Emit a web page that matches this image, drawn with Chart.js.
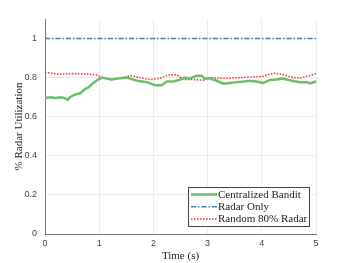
<!DOCTYPE html>
<html>
<head>
<meta charset="utf-8">
<script src="https://cdn.jsdelivr.net/npm/chart.js@4"></script>
<style>
  html, body { margin: 0; padding: 0; background: #fff; }
  #wrap { width: 350px; height: 263px; }
</style>
</head>
<body>
<div id="wrap"><canvas id="utilChart" width="350" height="263"></canvas></div>
<script>
// values
var banditTime = [0, 0.1, 0.2, 0.3, 0.37, 0.42, 0.46, 0.55, 0.65, 0.74, 0.8, 0.89, 0.98, 1.05, 1.14, 1.23, 1.38, 1.51, 1.63, 1.75, 1.88, 2.03, 2.15, 2.25, 2.37, 2.49, 2.58, 2.67, 2.8, 2.89, 2.95, 3.04, 3.17, 3.29, 3.41, 3.54, 3.66, 3.78, 3.9, 4.03, 4.15, 4.27, 4.37, 4.46, 4.58, 4.7, 4.83, 4.89, 5];
var banditUtil = [0.696, 0.70, 0.696, 0.70, 0.694, 0.687, 0.70, 0.713, 0.72, 0.742, 0.75, 0.773, 0.79, 0.80, 0.795, 0.79, 0.797, 0.80, 0.79, 0.781, 0.777, 0.761, 0.761, 0.78, 0.78, 0.79, 0.80, 0.795, 0.81, 0.81, 0.795, 0.795, 0.784, 0.769, 0.773, 0.777, 0.78, 0.784, 0.78, 0.773, 0.788, 0.79, 0.795, 0.79, 0.783, 0.776, 0.776, 0.77, 0.78];

var radarTime = [0, 5];
var radarUtil = [1, 1];

var randomTime = [0, 0.1, 0.27, 0.45, 0.69, 0.95, 1.05, 1.2, 1.38, 1.57, 1.75, 1.94, 2.12, 2.3, 2.43, 2.55, 2.73, 2.92, 3.04, 3.23, 3.41, 3.6, 3.84, 4.03, 4.21, 4.4, 4.58, 4.7, 4.83, 5];
var randomUtil = [0.827, 0.823, 0.817, 0.82, 0.82, 0.814, 0.80, 0.79, 0.797, 0.81, 0.80, 0.79, 0.797, 0.815, 0.815, 0.79, 0.79, 0.787, 0.80, 0.797, 0.797, 0.80, 0.804, 0.807, 0.823, 0.815, 0.80, 0.797, 0.807, 0.82];

var xTicks = [0, 1, 2, 3, 4, 5];
var yTicks = [0, 0.2, 0.4, 0.6, 0.8, 1];

var serif = '"Liberation Serif", "Times New Roman", serif';
var sans = '"Liberation Sans", Arial, sans-serif';

function toPoints(xs, ys) {
    return xs.map(function (x, i) { return {x: x, y: ys[i]}; });
}

// legend drawn inside the plot, bottom right (like matlab "southeast")
var boxLegend = {
    id: 'boxLegend',
    afterDraw: function (chart) {
        var ctx = chart.ctx;
        var area = chart.chartArea;
        var w = 122, h = 40;
        var x0 = Math.round(area.right - 6 - w), y0 = Math.round(area.bottom - 7 - h);
        ctx.save();
        ctx.fillStyle = '#fff';
        ctx.fillRect(x0, y0, w, h);
        ctx.strokeStyle = '#444';
        ctx.lineWidth = 1;
        ctx.strokeRect(x0 + 0.5, y0 + 0.5, w - 1, h - 1);
        ctx.font = '11px ' + serif;
        ctx.textBaseline = 'middle';
        chart.data.datasets.forEach(function (ds, i) {
            var y = y0 + 7.5 + i * 12.3;
            ctx.beginPath();
            ctx.strokeStyle = ds.borderColor;
            ctx.lineWidth = ds.borderWidth;
            ctx.setLineDash(ds.borderDash || []);
            ctx.moveTo(x0 + 3, y);
            ctx.lineTo(x0 + 29, y);
            ctx.stroke();
            ctx.setLineDash([]);
            ctx.fillStyle = '#222';
            ctx.fillText(ds.label, x0 + 30, y + 0.5);
        });
        ctx.restore();
    }
};

var util = document.getElementById("utilChart");
var utilChart = new Chart(util, {
    type: 'line',
    data: {
        datasets: [{
            label: 'Centralized Bandit',
            data: toPoints(banditTime, banditUtil),
            borderColor: 'rgb(108, 190, 108)',
            borderWidth: 2.5,
            pointRadius: 0,
            fill: false
        }, {
            label: 'Radar Only',
            data: toPoints(radarTime, radarUtil),
            borderColor: 'rgb(72, 122, 180)',
            borderWidth: 1.5,
            borderDash: [5, 2, 1.5, 2],
            pointRadius: 0,
            fill: false
        }, {
            label: 'Random 80% Radar',
            data: toPoints(randomTime, randomUtil),
            borderColor: 'rgb(235, 50, 55)',
            borderWidth: 1.5,
            borderDash: [1.5, 1.5],
            pointRadius: 0,
            fill: false
        }]
    },
    options: {
        responsive: false,
        animation: false,
        layout: { padding: { left: 13, right: 34, top: 19, bottom: 0 } },
        elements: { line: { tension: 0 } },
        plugins: { legend: { display: false }, tooltip: { enabled: false } },
        scales: {
            x: {
                type: 'linear',
                min: 0,
                max: 5,
                afterBuildTicks: function (scale) {
                    scale.ticks = xTicks.map(function (v) { return {value: v}; });
                },
                afterFit: function (scale) { scale.height = 29; },
                grid: { color: '#ebebeb', drawTicks: false },
                border: { color: '#777', width: 1 },
                ticks: {
                    padding: 4,
                    maxRotation: 0,
                    color: '#444',
                    font: { family: sans, size: 9 }
                },
                title: {
                    display: true,
                    text: 'Time (s)',
                    color: '#222',
                    padding: 0,
                    font: { family: serif, size: 11 }
                }
            },
            y: {
                min: 0,
                max: 1.1,
                afterBuildTicks: function (scale) {
                    scale.ticks = yTicks.map(function (v) { return {value: v}; });
                },
                afterFit: function (scale) { scale.width = 32; },
                grid: { color: '#ebebeb', drawTicks: false },
                border: { color: '#777', width: 1 },
                ticks: {
                    padding: 8,
                    color: '#444',
                    font: { family: sans, size: 9 },
                    callback: function (v) { return String(v); }
                },
                title: {
                    display: true,
                    text: '% Radar Utilization',
                    color: '#222',
                    padding: 0,
                    font: { family: serif, size: 11 }
                }
            }
        }
    },
    plugins: [boxLegend]
});
</script>
</body>
</html>
